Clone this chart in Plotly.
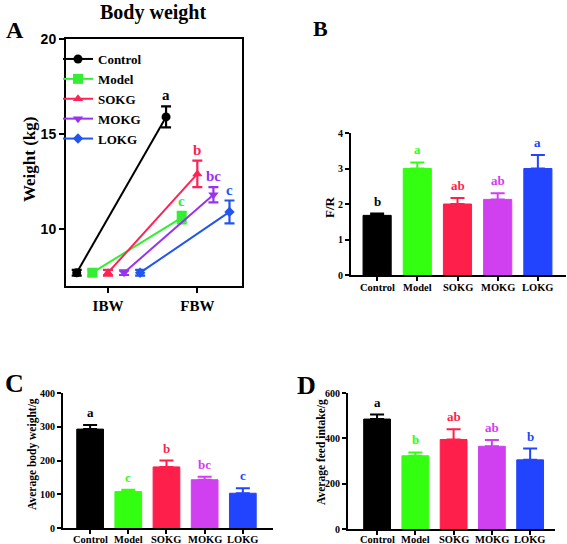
import plotly.graph_objects as go

W, H = 567, 544
SERIF = "Liberation Serif, Times New Roman, serif"
SANS = "Liberation Sans, Arial, sans-serif"

# ---------------- data ----------------
groups = ["Control", "Model", "SOKG", "MOKG", "LOKG"]
timepoints = ["IBW", "FBW"]

# Panel A: body weight (kg)
ibw_mean = [7.7, 7.7, 7.7, 7.7, 7.7]
ibw_err = [0.15, 0.15, 0.15, 0.12, 0.15]
fbw_mean = [15.9, 10.6, 12.9, 11.8, 10.9]
fbw_err = [0.55, 0.3, 0.7, 0.4, 0.6]
bw_letters = ["a", "c", "b", "bc", "c"]

# Panel B: F/R
fr_mean = [1.68, 3.0, 2.0, 2.13, 3.0]
fr_err = [0.05, 0.17, 0.17, 0.17, 0.38]
fr_letters = ["b", "a", "ab", "ab", "a"]

# Panel C: average body weight / g
abw_mean = [293, 108, 181, 143, 103]
abw_err = [12, 5, 19, 9, 15]
abw_letters = ["a", "c", "b", "bc", "c"]

# Panel D: average feed intake / g
afi_mean = [485, 323, 395, 365, 305]
afi_err = [20, 15, 45, 28, 50]
afi_letters = ["a", "b", "ab", "ab", "b"]

# ---------------- styles ----------------
line_colors = ["#000000", "#33ee33", "#ff2255", "#9933ee", "#2255ee"]
bar_colors = ["#000000", "#33ff11", "#ff1f4b", "#d040f0", "#2244ff"]
symbols = ["circle", "square", "triangle-up", "triangle-down", "diamond"]
msizes = [9, 10, 9, 9, 8]
dodge = [-0.35, -0.175, 0.0, 0.18, 0.36]


def px_x(p):
    return p / W


def px_y(p):
    return 1 - p / H


fig = go.Figure()

# ---- Panel A ----
for i, g in enumerate(groups):
    xs = [0 + dodge[i], 1 + dodge[i]]
    fig.add_trace(go.Scatter(
        x=xs, y=[ibw_mean[i], fbw_mean[i]],
        mode="lines+markers", name=g,
        line=dict(color=line_colors[i], width=2),
        marker=dict(symbol=symbols[i], size=msizes[i], color=line_colors[i]),
        error_y=dict(type="data", array=[ibw_err[i], fbw_err[i]],
                     color=line_colors[i], thickness=2.2, width=5),
        xaxis="x", yaxis="y", showlegend=True,
    ))
    fig.add_annotation(
        x=1 + dodge[i], y=fbw_mean[i] + fbw_err[i], xref="x", yref="y",
        text="<b>%s</b>" % bw_letters[i], showarrow=False, yanchor="bottom",
        yshift=1, font=dict(family=SERIF, size=15, color=line_colors[i]))

# ---- Bar panels ----
bar_panels = [
    ("x2", "y2", fr_mean, fr_err, fr_letters, 287),
    ("x3", "y3", abw_mean, abw_err, abw_letters, 539),
    ("x4", "y4", afi_mean, afi_err, afi_letters, 539),
]
for xa, ya, means, errs, letters, label_y in bar_panels:
    fig.add_trace(go.Bar(
        x=groups, y=means, xaxis=xa, yaxis=ya, showlegend=False,
        width=0.7,
        marker=dict(color=bar_colors, line=dict(color=bar_colors, width=1)),
        hoverinfo="y",
    ))
    for i, g in enumerate(groups):
        # coloured upper error bar for each bar
        fig.add_trace(go.Scatter(
            x=[g], y=[means[i]], xaxis=xa, yaxis=ya, mode="markers",
            marker=dict(size=1, color=bar_colors[i], opacity=0),
            error_y=dict(type="data", symmetric=False, array=[errs[i]],
                         arrayminus=[0], thickness=2, width=7,
                         color=bar_colors[i]),
            showlegend=False, hoverinfo="skip"))
        fig.add_annotation(
            x=g, y=means[i] + errs[i], xref=xa, yref=ya,
            text="<b>%s</b>" % letters[i], showarrow=False, yanchor="bottom",
            yshift=3, font=dict(family=SERIF, size=13, color=bar_colors[i]))
        # category label under the axis
        fig.add_annotation(
            x=g, y=px_y(label_y), xref=xa, yref="paper",
            text="<b>%s</b>" % g, showarrow=False, yanchor="middle",
            font=dict(family=SERIF, size=10.5, color="black"))

axis_line = dict(showline=True, linecolor="black", linewidth=2,
                 ticks="outside", tickcolor="black", tickwidth=2,
                 showgrid=False, zeroline=False, automargin=False)
bar_tickfont = dict(family=SERIF, size=10, color="black", weight="bold")

fig.update_layout(
    width=W, height=H, margin=dict(l=0, r=0, t=0, b=0, autoexpand=False),
    paper_bgcolor="white", plot_bgcolor="white",
    legend=dict(x=px_x(58), y=px_y(44), xanchor="left", yanchor="top",
                bgcolor="rgba(0,0,0,0)", tracegroupgap=0, itemwidth=30,
                font=dict(family=SERIF, size=13, color="black", weight="bold")),
    xaxis=dict(domain=[px_x(66), px_x(242)], range=[-0.47, 1.5],
               tickvals=[0, 1], ticktext=timepoints, mirror=True, ticklen=5,
               tickfont=dict(family=SERIF, size=15, color="black", weight="bold"),
               anchor="y", **axis_line),
    yaxis=dict(domain=[px_y(286), px_y(39)], range=[7, 20],
               tickvals=[10, 15, 20], mirror=True, ticklen=5,
               tickfont=dict(family=SANS, size=14, color="black", weight="bold"),
               anchor="x", **axis_line),
    xaxis2=dict(domain=[px_x(351), px_x(566)], range=[-0.65, 4.7],
                ticklen=4, anchor="y2", showticklabels=False, **axis_line),
    yaxis2=dict(domain=[px_y(275), px_y(133)], range=[0, 4],
                tickvals=[0, 1, 2, 3, 4], ticklen=4, anchor="x2",
                tickfont=bar_tickfont, **axis_line),
    xaxis3=dict(domain=[px_x(63), px_x(273)], range=[-0.71, 4.79],
                ticklen=4, anchor="y3", showticklabels=False, **axis_line),
    yaxis3=dict(domain=[px_y(528), px_y(393)], range=[0, 400],
                tickvals=[0, 100, 200, 300, 400], ticklen=4, anchor="x3",
                tickfont=bar_tickfont, **axis_line),
    xaxis4=dict(domain=[px_x(348), px_x(555)], range=[-0.76, 4.65],
                ticklen=4, anchor="y4", showticklabels=False, **axis_line),
    yaxis4=dict(domain=[px_y(529), px_y(393)], range=[0, 600],
                tickvals=[0, 200, 400, 600], ticklen=4, anchor="x4",
                tickfont=bar_tickfont, **axis_line),
)

# titles / panel labels / axis titles
texts = [
    ("<b>Body weight</b>", 153, 12, 20, 0),
    ("<b>A</b>", 15, 30, 24, 0),
    ("<b>B</b>", 320, 28, 22, 0),
    ("<b>C</b>", 14, 383, 26, 0),
    ("<b>D</b>", 306, 385, 26, 0),
    ("<b>Weight (kg)</b>", 29, 160, 17, -90),
    ("<b>F/R</b>", 329, 207, 13, -90),
    ("<b>Average body weight/g</b>", 32, 454, 11.5, -90),
    ("<b>Average feed intake/g</b>", 321, 452, 11.5, -90),
]
for t, x, y, s, ang in texts:
    fig.add_annotation(x=px_x(x), y=px_y(y), xref="paper", yref="paper",
                       text=t, showarrow=False, textangle=ang,
                       xanchor="center", yanchor="middle",
                       font=dict(family=SERIF, size=s, color="black"))

fig.write_html("out.html", config={"displayModeBar": False},
               post_script="document.body.style.margin='0';"
                           "document.body.style.padding='0';"
                           "document.body.style.overflow='hidden';")
